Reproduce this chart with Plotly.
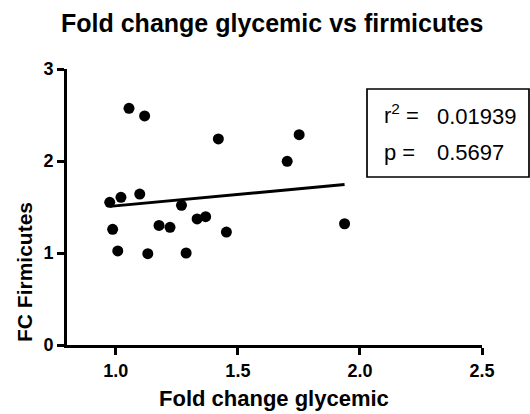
import numpy as np
import plotly.graph_objects as go

fold_change_glycemic = [1.054, 1.118, 1.420, 0.975, 1.021, 1.098, 1.269, 0.987, 1.177, 1.222,
                        1.333, 1.368, 1.453, 1.008, 1.131, 1.288, 1.751, 1.702, 1.937]
fc_firmicutes = [2.573, 2.490, 2.240, 1.551, 1.605, 1.641, 1.518, 1.257, 1.300, 1.279,
                 1.370, 1.395, 1.228, 1.022, 0.993, 1.000, 2.286, 1.997, 1.318]
x_ticks = [1.0, 1.5, 2.0, 2.5]
x_tick_labels = ["1.0", "1.5", "2.0", "2.5"]
y_ticks = [0, 1, 2, 3]
y_tick_labels = ["0", "1", "2", "3"]
r_squared_text = "0.01939"
p_value_text = "0.5697"

x = np.array(fold_change_glycemic)
y = np.array(fc_firmicutes)
slope, intercept = np.polyfit(x, y, 1)
fit_x = np.array([x.min(), x.max()])
fit_y = slope * fit_x + intercept

FONT = "Liberation Sans, Arial, sans-serif"
W, H = 530, 414
L, R, T, B = 67, 48, 69, 69
pw, ph = W - L - R, H - T - B


def px_x(p):
    return (p - L) / pw


def px_y(p):
    return (H - B - p) / ph


fig = go.Figure()
fig.add_trace(go.Scatter(x=x, y=y, mode="markers",
                         marker=dict(color="black", size=11, line=dict(width=0)),
                         showlegend=False, cliponaxis=False))
fig.add_trace(go.Scatter(x=fit_x, y=fit_y, mode="lines",
                         line=dict(color="black", width=3), showlegend=False))

fig.update_layout(
    width=W, height=H,
    margin=dict(l=L, r=R, t=T, b=B),
    plot_bgcolor="white", paper_bgcolor="white",
    font=dict(family=FONT, color="black"),
    xaxis=dict(range=[0.8, 2.5], tickvals=x_ticks, ticktext=x_tick_labels,
               showgrid=False, zeroline=False, showline=True, linecolor="black", linewidth=3,
               ticks="outside", ticklen=7, tickwidth=3, tickcolor="black",
               tickfont=dict(size=18, family=FONT, weight="bold", color="black")),
    yaxis=dict(range=[0, 3], tickvals=y_ticks, ticktext=y_tick_labels,
               showgrid=False, zeroline=False, showline=True, linecolor="black", linewidth=3,
               ticks="outside", ticklen=7, tickwidth=3, tickcolor="black",
               tickfont=dict(size=18, family=FONT, weight="bold", color="black")),
)

# title
fig.add_annotation(text="Fold change glycemic vs firmicutes", xref="paper", yref="paper",
                   x=px_x(272), y=px_y(23), xanchor="center", yanchor="middle",
                   showarrow=False,
                   font=dict(size=25, family=FONT, weight="bold", color="black"))
# axis titles
fig.add_annotation(text="Fold change glycemic", xref="paper", yref="paper",
                   x=px_x(274), y=px_y(398), xanchor="center", yanchor="middle",
                   showarrow=False,
                   font=dict(size=22, family=FONT, weight="bold", color="black"))
fig.add_annotation(text="FC Firmicutes", textangle=-90, xref="paper", yref="paper",
                   x=px_x(24), y=px_y(272), xanchor="center", yanchor="middle",
                   showarrow=False,
                   font=dict(size=21, family=FONT, weight="bold", color="black"))

# statistics box
fig.add_shape(type="rect", xref="paper", yref="paper",
              x0=px_x(367), x1=px_x(529), y0=px_y(177), y1=px_y(89),
              line=dict(color="black", width=1.7), fillcolor="white", layer="above")
fig.add_annotation(text="r<sup>2</sup> =", xref="paper", yref="paper",
                   x=px_x(382), y=px_y(114), xanchor="left", yanchor="middle",
                   showarrow=False, font=dict(size=22, family=FONT, color="black"))
fig.add_annotation(text=r_squared_text, xref="paper", yref="paper",
                   x=px_x(435), y=px_y(116), xanchor="left", yanchor="middle",
                   showarrow=False, font=dict(size=22, family=FONT, color="black"))
fig.add_annotation(text="p =", xref="paper", yref="paper",
                   x=px_x(382), y=px_y(152), xanchor="left", yanchor="middle",
                   showarrow=False, font=dict(size=22, family=FONT, color="black"))
fig.add_annotation(text=p_value_text, xref="paper", yref="paper",
                   x=px_x(435), y=px_y(152), xanchor="left", yanchor="middle",
                   showarrow=False, font=dict(size=22, family=FONT, color="black"))

fig.write_html("out.html",
               config={"displayModeBar": False, "staticPlot": True},
               post_script="document.body.style.margin='0';document.body.style.overflow='hidden';")
